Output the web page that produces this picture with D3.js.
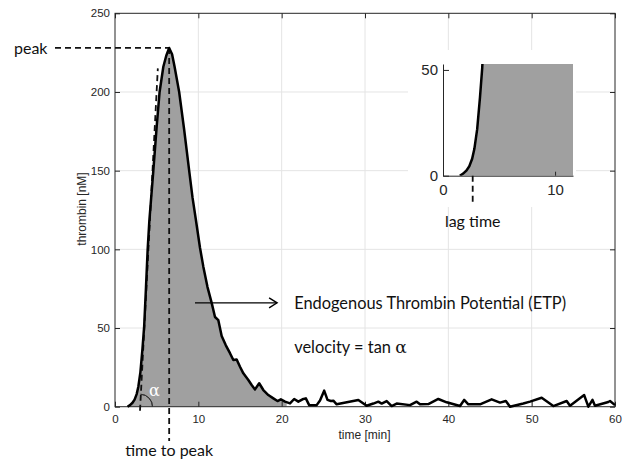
<!DOCTYPE html>
<html>
<head>
<meta charset="utf-8">
<script src="https://cdn.jsdelivr.net/npm/d3@7"></script>
<style>
  body { margin: 0; background: #fff; }
  svg { display: block; }
  .tick text { font-family: "Liberation Sans", Arial, sans-serif; fill: #262626; }
  .note { font-family: Lato, "Open Sans", sans-serif; fill: #111; }
  .greek { font-family: "DejaVu Serif", serif; }
</style>
</head>
<body>
<svg id="chart" width="630" height="462"></svg>
<script>
// thrombin generation curve
const TIME = [1.5, 1.8, 2.1, 2.35, 2.6, 2.8, 3.05, 3.3, 3.5, 3.72, 3.92, 4.12, 4.6, 5.0, 5.35, 5.8, 6.15, 6.5,
  6.85, 7.15, 7.7, 8.3, 8.9, 9.3, 9.7, 10.2, 10.6, 11.1, 11.6, 12.0, 12.4, 12.8, 13.3, 13.8, 14.2, 14.6,
  15.0, 15.4, 16.0, 16.4, 16.8, 17.3, 17.8, 18.4, 19.0, 19.5, 19.9, 20.4, 21.0, 21.5, 22.0, 22.5, 22.9,
  23.3, 24.2, 24.6, 25.1, 25.5, 25.9, 26.2, 26.6, 29.2, 30.2, 31.0, 31.6, 32.0, 32.6, 33.2, 33.8, 35.4,
  36.2, 36.6, 37.6, 38.8, 39.8, 41.4, 41.9, 42.4, 43.8, 45.2, 46.2, 46.9, 47.4, 49.0, 49.8, 51.2, 52.6,
  54.2, 54.6, 56.3, 56.8, 57.3, 57.6, 59.2, 59.4, 60.0];
const THROMBIN = [0, 1, 2.5, 4.5, 8, 12.7, 22, 37, 51, 76, 100, 118, 150, 178, 200, 216, 223, 228,
  224, 216, 200, 176, 150, 133, 119, 101, 89, 76, 66, 57, 55, 45, 39, 34, 29.7, 30,
  25.4, 21.2, 17, 13.8, 11, 14.9, 10.6, 7.4, 5.3, 3.6, 4.7, 3.2, 2.1, 4.9, 3.2, 4.7, 5.3,
  1, 1, 4, 10.2, 4.3, 3.6, 3.8, 1.5, 4.3, 0.6, 2, 3.2, 2, 3.6, 0.4, 2, 1,
  3.2, 1.5, 1.7, 4.9, 2.8, 0.4, 4.3, 1.5, 1.5, 4.7, 2.6, 3.6, 0, 2, 3.2, 5.7, 0.4,
  3.6, 0.6, 7.4, 0, 4.3, 0.6, 3, 3.6, 1];

const X_TICKS = [0, 10, 20, 30, 40, 50, 60];
const Y_TICKS = [0, 50, 100, 150, 200, 250];
const INSET_X_TICKS = [0, 10];
const INSET_Y_TICKS = [0, 50];
const INSET_X_MAX = 11.6;
const INSET_Y_MAX = 52.8;

const ETP_END = 20.6;          // shaded area stops here
const LAG_TIME = 2.65;
const TANGENT = [[3.0, 0], [5.14, 215]];
const ARROW = [[9.6, 66], [19.45, 66]];
const ETP_LABEL = [21.5, 62];
const VELOCITY_LABEL = [21.5, 34];

const points = TIME.map((t, i) => [t, THROMBIN[i]]);

const svg = d3.select("#chart");
const x = d3.scaleLinear().domain([0, 60]).range([115, 615]);
const y = d3.scaleLinear().domain([0, 250]).range([406.7, 13.3]);

const GRID = "#e4e4e4";
const AXIS = "#262626";
const FILL = "#a0a0a0";

svg.append("rect").attr("width", 630).attr("height", 462).attr("fill", "#fff");

// grid
svg.append("g").selectAll("line").data(X_TICKS.slice(1, -1)).join("line")
  .attr("x1", d => x(d)).attr("x2", d => x(d)).attr("y1", y(0)).attr("y2", y(250))
  .attr("stroke", GRID);
svg.append("g").selectAll("line").data(Y_TICKS.slice(1, -1)).join("line")
  .attr("x1", x(0)).attr("x2", x(60)).attr("y1", d => y(d)).attr("y2", d => y(d))
  .attr("stroke", GRID);

// ETP shading
svg.append("clipPath").attr("id", "etp-clip").append("rect")
  .attr("x", x(0)).attr("y", y(250)).attr("width", x(ETP_END) - x(0)).attr("height", y(0) - y(250));
const area = d3.area().x(d => x(d[0])).y0(y(0)).y1(d => y(d[1]));
svg.append("path").datum(points).attr("d", area).attr("fill", FILL).attr("clip-path", "url(#etp-clip)");

// axes, ticks pointing inwards like the original
function styleAxis(g) {
  g.select(".domain").remove();
  g.selectAll(".tick line").attr("stroke", AXIS);
  g.selectAll(".tick text").attr("font-size", 11.5);
}
svg.append("g").attr("transform", `translate(0,${y(0)})`)
  .call(d3.axisBottom(x).tickValues(X_TICKS).tickSize(-5).tickPadding(8)).call(styleAxis);
svg.append("g").attr("transform", `translate(${x(0)},0)`)
  .call(d3.axisLeft(y).tickValues(Y_TICKS).tickSize(-5).tickPadding(5)).call(styleAxis);
svg.append("g").attr("transform", `translate(0,${y(250)})`)
  .call(d3.axisTop(x).tickValues(X_TICKS).tickSize(-5).tickFormat("")).call(styleAxis);
svg.append("g").attr("transform", `translate(${x(60)},0)`)
  .call(d3.axisRight(y).tickValues(Y_TICKS).tickSize(-5).tickFormat("")).call(styleAxis);
svg.append("rect").attr("x", x(0)).attr("y", y(250))
  .attr("width", x(60) - x(0)).attr("height", y(0) - y(250))
  .attr("fill", "none").attr("stroke", AXIS);

svg.append("text").attr("x", 364.5).attr("y", 438.5)
  .attr("text-anchor", "middle").attr("font-size", 12)
  .attr("font-family", "Liberation Sans, Arial, sans-serif").attr("fill", AXIS).text("time [min]");
svg.append("text").attr("transform", "translate(86,209) rotate(-90)")
  .attr("text-anchor", "middle").attr("font-size", 12)
  .attr("font-family", "Liberation Sans, Arial, sans-serif").attr("fill", AXIS).text("thrombin [nM]");

// tangent + peak guides
const peak = points[d3.maxIndex(points, d => d[1])];
const dash = g => g.attr("stroke", "#111").attr("stroke-width", 1.8).attr("stroke-dasharray", "6,4").attr("fill", "none");
svg.append("line")
  .attr("x1", x(TANGENT[0][0])).attr("y1", y(TANGENT[0][1]) + 4)
  .attr("x2", x(TANGENT[1][0])).attr("y2", y(TANGENT[1][1])).call(dash);
svg.append("line").attr("x1", 55).attr("x2", x(peak[0]))
  .attr("y1", y(peak[1])).attr("y2", y(peak[1])).call(dash);
svg.append("line").attr("x1", x(peak[0])).attr("x2", x(peak[0]))
  .attr("y1", y(peak[1])).attr("y2", 441).call(dash);

// curve
const line = d3.line().x(d => x(d[0])).y(d => y(d[1]));
svg.append("path").datum(points).attr("d", line)
  .attr("fill", "none").attr("stroke", "#000").attr("stroke-width", 2.5).attr("stroke-linejoin", "round");

// angle alpha
const tanAngle = Math.atan2(x(TANGENT[1][0]) - x(TANGENT[0][0]), y(TANGENT[0][1]) - y(TANGENT[1][1]));
svg.append("path")
  .attr("transform", `translate(${x(TANGENT[0][0])},${y(0)})`)
  .attr("d", d3.arc()({ innerRadius: 12.5, outerRadius: 12.5, startAngle: tanAngle, endAngle: Math.PI / 2 }))
  .attr("fill", "none").attr("stroke", "#333").attr("stroke-width", 1);
svg.append("text").attr("class", "greek").attr("x", 154.5).attr("y", 395.5)
  .attr("text-anchor", "middle").attr("font-size", 16).attr("fill", "#fff").text("α");

// arrow to ETP
const ax1 = x(ARROW[0][0]), ax2 = x(ARROW[1][0]), ay = y(ARROW[0][1]);
svg.append("line").attr("x1", ax1).attr("x2", ax2).attr("y1", ay).attr("y2", ay)
  .attr("stroke", "#000").attr("stroke-width", 1.4);
svg.append("path").attr("d", `M${ax2 - 8},${ay - 5}L${ax2},${ay}L${ax2 - 8},${ay + 5}`)
  .attr("fill", "none").attr("stroke", "#000").attr("stroke-width", 1.4);

svg.append("text").attr("class", "note").attr("x", x(ETP_LABEL[0])).attr("y", y(ETP_LABEL[1]))
  .attr("font-size", 16.4).text("Endogenous Thrombin Potential (ETP)");
const vel = svg.append("text").attr("class", "note").attr("x", x(VELOCITY_LABEL[0])).attr("y", y(VELOCITY_LABEL[1]))
  .attr("font-size", 16.4);
vel.append("tspan").text("velocity = tan ");
vel.append("tspan").attr("class", "greek").attr("font-size", 17).text("α");

svg.append("text").attr("class", "note").attr("x", 14).attr("y", 53.5).attr("font-size", 16).text("peak");
svg.append("text").attr("class", "note").attr("x", x(peak[0])).attr("y", 455.5)
  .attr("text-anchor", "middle").attr("font-size", 16).text("time to peak");

// inset: zoom on the lag phase
const ix = d3.scaleLinear().domain([0, INSET_X_MAX]).range([443, 573]);
const iy = d3.scaleLinear().domain([0, INSET_Y_MAX]).range([175.7, 64]);
svg.append("rect").attr("x", 408).attr("y", 50).attr("width", 168).attr("height", 157).attr("fill", "#fff");
svg.append("clipPath").attr("id", "inset-clip").append("rect")
  .attr("x", ix(0)).attr("y", iy(INSET_Y_MAX)).attr("width", ix(INSET_X_MAX) - ix(0)).attr("height", iy(0) - iy(INSET_Y_MAX));
const inset = svg.append("g");
const iarea = d3.area().x(d => ix(d[0])).y0(iy(0)).y1(d => iy(d[1]));
const iline = d3.line().x(d => ix(d[0])).y(d => iy(d[1]));
inset.append("path").datum(points).attr("d", iarea).attr("fill", FILL).attr("clip-path", "url(#inset-clip)");
inset.append("path").datum(points.filter(d => d[0] <= 6)).attr("d", iline).attr("clip-path", "url(#inset-clip)")
  .attr("fill", "none").attr("stroke", "#000").attr("stroke-width", 2.5);

function styleInset(g) {
  g.select(".domain").attr("stroke", AXIS);
  g.selectAll(".tick line").attr("stroke", AXIS);
  g.selectAll(".tick text").attr("font-size", 15).attr("font-family", "Lato, sans-serif").attr("fill", "#222");
}
inset.append("g").attr("transform", `translate(0,${iy(0)})`)
  .call(d3.axisBottom(ix).tickValues(INSET_X_TICKS).tickSize(-4).tickSizeOuter(0).tickPadding(9)).call(styleInset);
inset.append("g").attr("transform", `translate(${ix(0)},0)`)
  .call(d3.axisLeft(iy).tickValues(INSET_Y_TICKS).tickSize(-6).tickSizeOuter(0).tickPadding(5)).call(styleInset);

inset.append("line").attr("x1", ix(LAG_TIME)).attr("x2", ix(LAG_TIME))
  .attr("y1", iy(0)).attr("y2", 203).call(dash);
inset.append("text").attr("class", "note").attr("x", ix(LAG_TIME)).attr("y", 226.5)
  .attr("text-anchor", "middle").attr("font-size", 16).text("lag time");
</script>
</body>
</html>
